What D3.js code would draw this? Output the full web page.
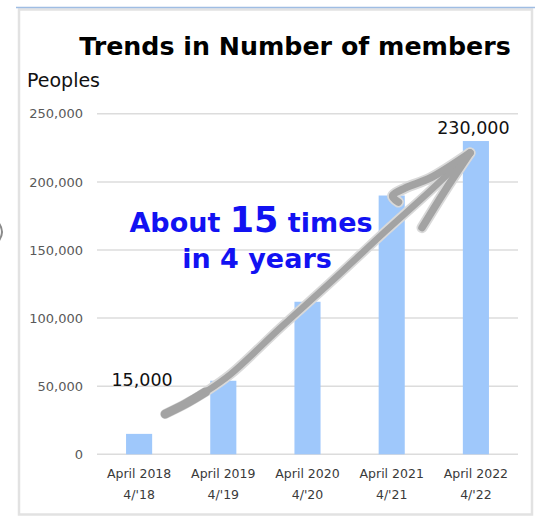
<!DOCTYPE html>
<html>
<head>
<meta charset="utf-8">
<script src="https://cdn.jsdelivr.net/npm/d3@7/dist/d3.min.js"></script>
<style>
  html, body { margin: 0; padding: 0; background: #fff; }
  svg { display: block; }
</style>
</head>
<body>
<svg id="chart" width="535" height="520"></svg>
<script>
// ---- data ----
const categories = ["April 2018", "April 2019", "April 2020", "April 2021", "April 2022"];
const subLabels = ["4/'18", "4/'19", "4/'20", "4/'21", "4/'22"];
const members = [15000, 54000, 112000, 190000, 230000];
const yTicks = [0, 50000, 100000, 150000, 200000, 250000];
const labelledIdx = [0, 4];
const labelTexts = ["15,000", "230,000"];
const titleText = "Trends in Number of members";
const yTitle = "Peoples";
// arrow in data space: [bar index offset, value]
const arrowShaft = [[0.31, 29600], [0.55, 37000], [0.79, 45800], [1.09, 59000], [1.68, 93000], [2.27, 126000], [2.93, 164000], [3.46, 193600], [3.93, 221300]];
const arrowBarbUp = [[3.93, 221300], [3.46, 202900], [3.16, 195500], [3.01, 189600], [3.08, 185200]];
const arrowBarbDown = [[3.93, 221300], [3.64, 194300], [3.36, 166400]];

const svg = d3.select("#chart");

// frame
svg.append("rect").attr("x", 19).attr("y", 9.5).attr("width", 513).attr("height", 505)
  .attr("fill", "#fff").attr("stroke", "#e2e2e2").attr("stroke-width", 2.5);
svg.append("line").attr("x1", 16).attr("x2", 535).attr("y1", 7.5).attr("y2", 7.5)
  .attr("stroke", "#9fbde3").attr("stroke-width", 1.5);
// cut-off decorative arc at left edge
svg.append("path").attr("d", "M -2 222 Q 6 232 -2 242").attr("fill", "none")
  .attr("stroke", "#8a8a8a").attr("stroke-width", 2);

const x = d3.scaleBand().domain(categories).range([97, 518]).paddingInner(0.69).paddingOuter(0.345);
const y = d3.scaleLinear().domain([0, 250000]).range([454.3, 113.8]);

// gridlines
svg.append("g").selectAll("line").data(yTicks).join("line")
  .attr("x1", 97).attr("x2", 518)
  .attr("y1", d => y(d)).attr("y2", d => y(d))
  .attr("stroke", "#dcdcdc").attr("stroke-width", 1.5);

// y axis labels
const fmt = d3.format(",");
const yAxis = d3.axisLeft(y).tickValues(yTicks).tickFormat(fmt).tickSize(0).tickPadding(0);
const gy = svg.append("g").attr("transform", "translate(83,0)").call(yAxis);
gy.select(".domain").remove();
gy.selectAll("text").attr("font-family", "DejaVu Sans").attr("font-size", 13).attr("fill", "#595959");

// bars
svg.append("g").selectAll("rect").data(members).join("rect")
  .attr("x", (d, i) => x(categories[i]))
  .attr("y", d => y(d))
  .attr("width", x.bandwidth())
  .attr("height", d => y(0) - y(d))
  .attr("fill", "#9fc8fb");

// x labels
const xl = svg.append("g").selectAll("text").data(categories).join("text")
  .attr("x", d => x(d) + x.bandwidth() / 2)
  .attr("text-anchor", "middle")
  .attr("font-family", "DejaVu Sans").attr("font-size", 12.5).attr("fill", "#3a3a3a");
xl.append("tspan").attr("x", d => x(d) + x.bandwidth() / 2).attr("y", 478).text(d => d);
xl.append("tspan").attr("x", d => x(d) + x.bandwidth() / 2).attr("y", 499).text((d, i) => subLabels[i]);

// title
svg.append("text").attr("x", 295).attr("y", 55).attr("text-anchor", "middle")
  .attr("font-family", "DejaVu Sans").attr("font-weight", "bold").attr("font-size", 25.3)
  .attr("fill", "#000").text(titleText);
svg.append("text").attr("x", 27).attr("y", 87)
  .attr("font-family", "DejaVu Sans").attr("font-size", 19).attr("fill", "#111").text(yTitle);

// arrow
const ax = i => x(categories[0]) + x.bandwidth() / 2 + i * x.step();
const line = d3.line().x(d => ax(d[0])).y(d => y(d[1])).curve(d3.curveCatmullRom);
const arrow = svg.append("g").attr("fill", "none").attr("stroke-linecap", "round").attr("stroke-linejoin", "round");
[arrowShaft, arrowBarbUp, arrowBarbDown].forEach((pts, k) => {
  arrow.append("path").attr("d", line(pts)).attr("stroke", "#d9d9d9").attr("stroke-width", k === 0 ? 10 : 11);
});
[arrowShaft, arrowBarbUp, arrowBarbDown].forEach((pts, k) => {
  arrow.append("path").attr("d", line(pts)).attr("stroke", "#a3a3a3").attr("stroke-width", k === 0 ? 6.5 : 7.5);
});
// thicker tail
arrow.append("path").attr("d", line(arrowShaft.slice(0, 3))).attr("stroke", "#a3a3a3").attr("stroke-width", 9);

// data labels
const offsets = {0: [3, 48], 4: [-2.5, 7]};
svg.append("g").selectAll("text").data(labelledIdx).join("text")
  .attr("x", d => x(categories[d]) + x.bandwidth() / 2 + offsets[d][0])
  .attr("y", d => y(members[d]) - offsets[d][1])
  .attr("text-anchor", "middle")
  .attr("font-family", "DejaVu Sans").attr("font-size", 17.5).attr("fill", "#111")
  .text((d, i) => labelTexts[i]);

// annotation
const ann = svg.append("text").attr("text-anchor", "middle")
  .attr("font-family", "DejaVu Sans").attr("font-weight", "bold").attr("fill", "#1212f2");
const l1 = ann.append("tspan").attr("x", 251).attr("y", 232);
l1.append("tspan").attr("font-size", 27).text("About ");
l1.append("tspan").attr("font-size", 35).text("15");
l1.append("tspan").attr("font-size", 27).text(" times");
ann.append("tspan").attr("x", 257).attr("y", 268).attr("font-size", 27).text("in 4 years");
</script>
</body>
</html>
